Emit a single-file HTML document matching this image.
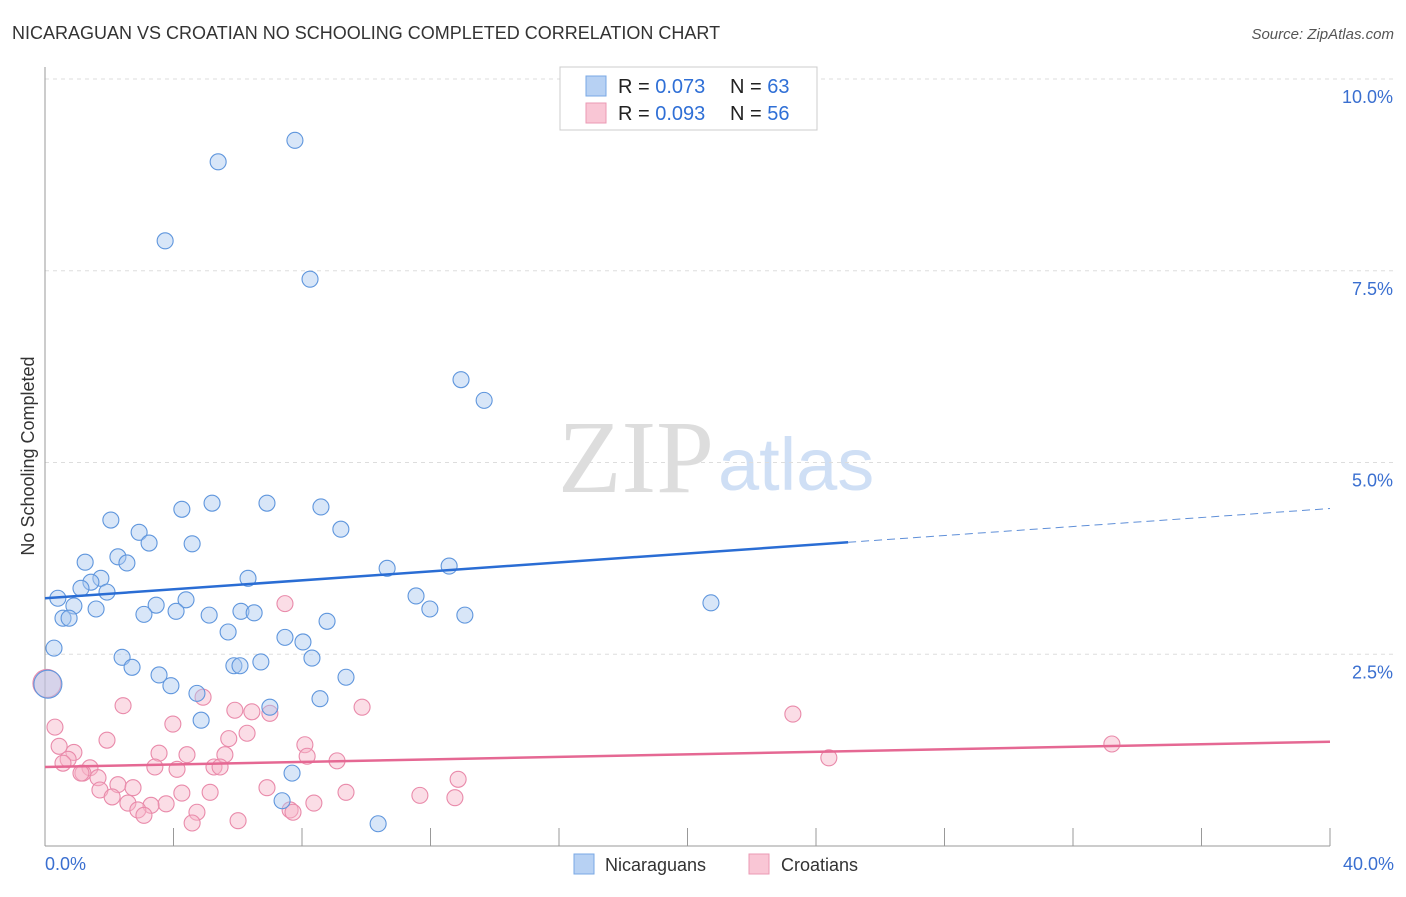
<!DOCTYPE html>
<html><head><meta charset="utf-8"><style>
body{margin:0;background:#fff;font-family:"Liberation Sans",sans-serif}
svg text{font-family:"Liberation Sans",sans-serif}
</style></head><body>
<svg width="1406" height="892" id="c">
<text x="12" y="39" font-size="18" fill="#333">NICARAGUAN VS CROATIAN NO SCHOOLING COMPLETED CORRELATION CHART</text>
<text x="1394" y="39" font-size="15" fill="#555" text-anchor="end" font-style="italic">Source: ZipAtlas.com</text>
<text x="34" y="456" font-size="18" fill="#333" text-anchor="middle" transform="rotate(-90 34 456)">No Schooling Completed</text>
<text x="714" y="492" font-size="104" fill="#ddd" text-anchor="end" style="font-family:'Liberation Serif',serif">ZIP</text>
<text x="718" y="490" font-size="74" fill="#cfdff5">atlas</text>
<g id="grid"></g><g id="pts"></g><g id="lines"></g>
<rect x="560" y="67" width="257" height="63" fill="#fff" stroke="#ccc"/>
<rect x="586" y="76" width="20" height="20" fill="#b7d1f3" stroke="#7aa8e4"/>
<rect x="586" y="103" width="20" height="20" fill="#f9c6d5" stroke="#eb9ab4"/>
<text x="618" y="93" font-size="20" fill="#222">R = <tspan fill="#2f6fd6">0.073</tspan></text>
<text x="730" y="93" font-size="20" fill="#222">N = <tspan fill="#2f6fd6">63</tspan></text>
<text x="618" y="120" font-size="20" fill="#222">R = <tspan fill="#2f6fd6">0.093</tspan></text>
<text x="730" y="120" font-size="20" fill="#222">N = <tspan fill="#2f6fd6">56</tspan></text>
<rect x="574" y="854" width="20" height="20" fill="#b7d1f3" stroke="#7aa8e4"/>
<text x="605" y="871" font-size="18" fill="#333">Nicaraguans</text>
<rect x="749" y="854" width="20" height="20" fill="#f9c6d5" stroke="#eb9ab4"/>
<text x="781" y="871" font-size="18" fill="#333">Croatians</text>
</svg>
<script>
const yTicks=[2.5,5.0,7.5,10.0];
const xTickLabels=["0.0%","40.0%"];
const blueX=[7.78,5.39,3.74,8.25,12.95,13.67,5.20,6.91,4.26,8.59,2.05,2.93,9.21,3.24,4.58,1.25,2.27,2.55,10.65,12.58,1.74,1.43,6.32,1.12,1.93,0.40,11.55,0.90,4.39,3.46,1.59,20.73,11.98,6.10,6.51,4.08,3.08,5.11,13.07,0.56,0.75,8.78,5.70,7.47,8.03,0.28,2.40,8.31,6.72,5.88,6.07,2.71,3.55,9.37,0.09,3.92,4.73,8.56,7.00,4.86,7.69,7.38,10.37];
const blueY=[9.20,8.92,7.89,7.39,6.08,5.81,4.47,4.47,4.39,4.42,4.25,4.09,4.13,3.95,3.94,3.70,3.77,3.69,3.62,3.65,3.49,3.44,3.49,3.36,3.31,3.23,3.26,3.13,3.21,3.14,3.09,3.17,3.09,3.06,3.04,3.06,3.02,3.01,3.01,2.97,2.97,2.93,2.79,2.72,2.66,2.58,2.46,2.45,2.40,2.35,2.35,2.33,2.23,2.20,2.11,2.09,1.99,1.92,1.81,1.64,0.95,0.59,0.29];
const pinkX=[7.47,2.43,9.87,23.28,4.92,5.91,6.44,7.00,3.98,0.31,6.29,5.72,1.93,8.09,33.21,0.44,0.90,3.55,4.42,5.60,8.16,0.72,24.40,9.09,0.56,3.42,4.11,5.26,5.45,1.40,1.18,1.65,12.86,2.27,2.74,1.71,6.91,4.26,5.14,9.37,11.67,2.09,12.76,2.58,3.77,3.30,8.37,2.89,4.73,7.63,7.72,3.08,6.01,4.58,1.12,0.06];
const pinkY=[3.16,1.83,1.81,1.72,1.94,1.77,1.75,1.73,1.59,1.55,1.47,1.40,1.38,1.32,1.33,1.30,1.22,1.21,1.19,1.19,1.17,1.13,1.15,1.11,1.08,1.03,1.00,1.03,1.03,1.02,0.95,0.89,0.87,0.80,0.76,0.73,0.76,0.69,0.70,0.70,0.66,0.64,0.63,0.56,0.55,0.53,0.56,0.47,0.44,0.47,0.44,0.40,0.33,0.30,0.95,2.12];
const blueTrend=[3.23,3.96,4.40];
const pinkTrend=[1.03,1.36];
const X=v=>45+v/40*1285, Y=v=>846-v*76.7;
const NS="http://www.w3.org/2000/svg";
function mk(t,a,p){const e=document.createElementNS(NS,t);for(const k in a)e.setAttribute(k,a[k]);p.appendChild(e);return e;}
const g=document.getElementById('grid');
yTicks.forEach(t=>{
 const l=mk('line',{x1:45,x2:1394,y1:Y(t),y2:Y(t),stroke:'#ddd','stroke-dasharray':'4,4'},g);
 
 
 const tx=mk('text',{x:1393,y:Y(t)+24,'font-size':18,fill:'#3a6fd0','text-anchor':'end'},g);
 tx.textContent=t.toFixed(1)+'%';
 
 
});
const ax=mk('line',{x1:45,x2:1330,y1:846,y2:846,stroke:'#999'},g);


const ay=mk('line',{x1:45,x2:45,y1:67,y2:846,stroke:'#999'},g);


for(let i=1;i<=10;i++){
 const t=mk('line',{x1:X(i*4),x2:X(i*4),y1:828,y2:846,stroke:'#999'},g);
 
 
}
[[0,'start',45],[40,'end',1394]].forEach((d,i)=>{
 const tx=mk('text',{x:d[2],y:870,'font-size':18,fill:'#3a6fd0','text-anchor':d[1]},g);
 tx.textContent=xTickLabels[i];
 
 
});
const p=document.getElementById('pts');
function pts(xs,ys,fill,stroke,name){xs.forEach((x,i)=>{
 const big=x<0.15;
 const c=mk('circle',{cx:X(x),cy:Y(ys[i]),r:big?14:8,fill:fill,'fill-opacity':0.45,stroke:stroke,'stroke-width':1.1},p);
 
 
});}
pts(pinkX,pinkY,'#f7b3c8','#e98aaa','croatian-point');
pts(blueX,blueY,'#a9c8f0','#5f96dd','nicaraguan-point');
const L=document.getElementById('lines');
const b1=mk('line',{x1:X(0),y1:Y(blueTrend[0]),x2:X(25),y2:Y(blueTrend[1]),stroke:'#2a6dd4','stroke-width':2.5},L);


const b2=mk('line',{x1:X(25),y1:Y(blueTrend[1]),x2:X(40),y2:Y(blueTrend[2]),stroke:'#5f8fd8','stroke-width':1,'stroke-dasharray':'8,5'},L);


const p1=mk('line',{x1:X(0),y1:Y(pinkTrend[0]),x2:X(40),y2:Y(pinkTrend[1]),stroke:'#e56893','stroke-width':2.5},L);


</script>
</body></html>
